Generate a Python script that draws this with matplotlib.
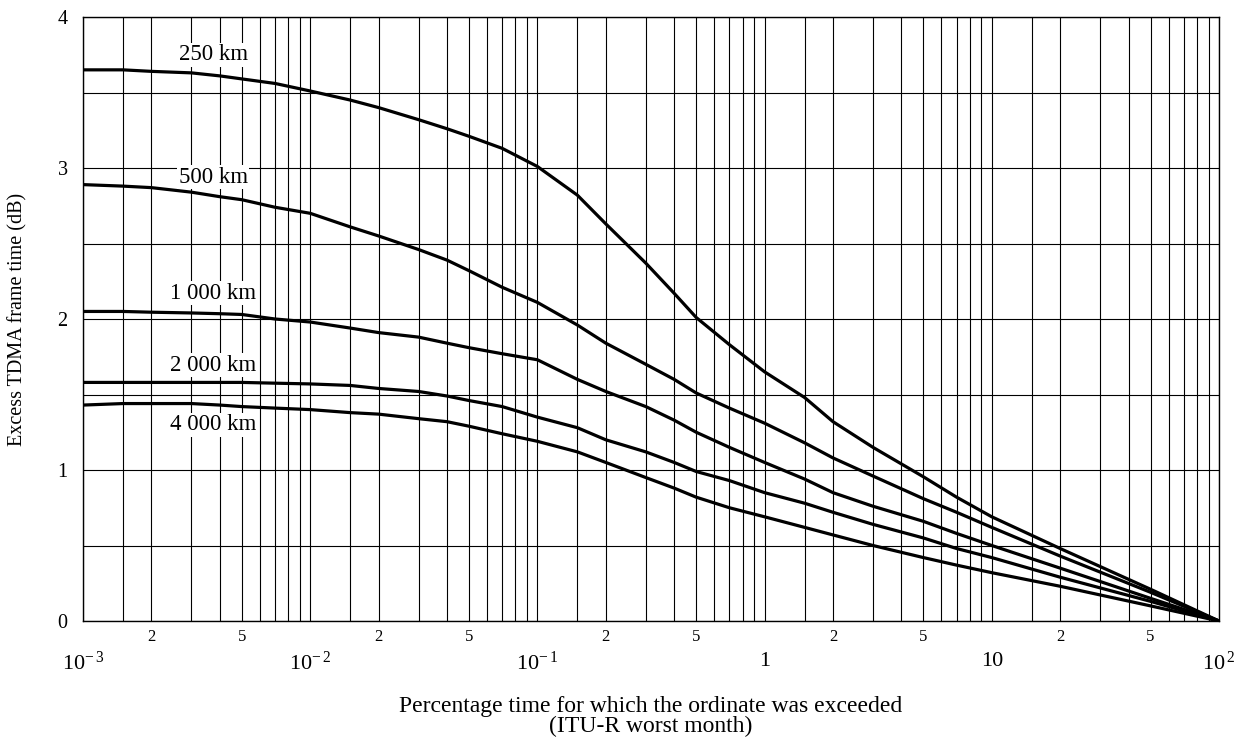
import numpy as np
import matplotlib
matplotlib.use("Agg")
import matplotlib.pyplot as plt

plt.rcParams['font.family'] = ['Liberation Serif', 'DejaVu Serif']
plt.rcParams['mathtext.fontset'] = 'custom'
plt.rcParams['mathtext.rm'] = 'Liberation Serif'

# percentage time (ITU-R worst month)
pct = [0.001, 0.0015, 0.002, 0.003, 0.004, 0.005, 0.007, 0.01, 0.015, 0.02,
       0.03, 0.04, 0.05, 0.07, 0.1, 0.15, 0.2, 0.3, 0.4, 0.5, 0.7, 1, 1.5, 2,
       3, 5, 7, 10, 20, 50, 100]

# excess TDMA frame time (dB) per distance
km_250 = [3.65, 3.65, 3.64, 3.63, 3.61, 3.59, 3.56, 3.51, 3.45, 3.40,
          3.32, 3.26, 3.21, 3.13, 3.01, 2.82, 2.63, 2.37, 2.17, 2.01, 1.83, 1.65, 1.48, 1.32,
          1.15, 0.955, 0.82, 0.69, 0.48, 0.21, 0.0]
km_500 = [2.89, 2.88, 2.87, 2.84, 2.81, 2.79, 2.74, 2.70, 2.61, 2.55,
          2.46, 2.39, 2.32, 2.21, 2.11, 1.96, 1.84, 1.70, 1.60, 1.51, 1.41, 1.31, 1.18, 1.08,
          0.96, 0.81, 0.72, 0.62, 0.43, 0.19, 0.0]
km_1000 = [2.05, 2.05, 2.045, 2.04, 2.035, 2.03, 2.00, 1.98, 1.94, 1.91,
           1.88, 1.84, 1.81, 1.77, 1.73, 1.60, 1.52, 1.42, 1.33, 1.25, 1.15, 1.05, 0.94, 0.85,
           0.76, 0.66, 0.58, 0.50, 0.35, 0.15, 0.0]
km_2000 = [1.58, 1.58, 1.58, 1.58, 1.58, 1.58, 1.575, 1.57, 1.56, 1.54,
           1.52, 1.49, 1.46, 1.42, 1.35, 1.28, 1.20, 1.12, 1.05, 0.99, 0.93, 0.85, 0.78, 0.72,
           0.64, 0.55, 0.48, 0.42, 0.29, 0.13, 0.0]
km_4000 = [1.43, 1.44, 1.44, 1.44, 1.43, 1.42, 1.41, 1.40, 1.38, 1.37,
           1.34, 1.32, 1.29, 1.24, 1.19, 1.12, 1.05, 0.95, 0.88, 0.82, 0.75, 0.69, 0.62, 0.57,
           0.50, 0.42, 0.37, 0.32, 0.23, 0.10, 0.0]

curves = [km_250, km_500, km_1000, km_2000, km_4000]
names = ['250 km', '500 km', '1 000 km', '2 000 km', '4 000 km']
label_y = [3.75, 2.94, 2.17, 1.695, 1.30]

major_x = [1e-3, 1e-2, 1e-1, 1, 10, 100]
major_lbl = [r'$\mathregular{10^{-\,3}}$', r'$\mathregular{10^{-\,2}}$',
             r'$\mathregular{10^{-\,1}}$', '1', '10', r'$\mathregular{10^{\,2}}$']
mantissa = [1.5, 2, 3, 4, 5, 6, 7, 8, 9]
minor_named = {2: '2', 5: '5'}

fig = plt.figure(figsize=(12.45, 7.42), dpi=100)
ax = fig.add_axes([83/1245, 1-621/742, (1219-83)/1245, (621-17)/742])

for y in curves:
    ax.plot(pct, y, color='black', lw=2.3, solid_capstyle='round',
            solid_joinstyle='round', zorder=3)

for name, ly in zip(names, label_y):
    ax.text(3.75e-3, ly, name, ha='center', va='center', fontsize=16.5, zorder=4,
            bbox=dict(facecolor='white', edgecolor='none', pad=1.0))

ax.set_xscale('log')
ax.set_xlim(1e-3, 1e2)
ax.set_ylim(0, 4)

minor_x = []
minor_lbl = []
for d in major_x[:-1]:
    for m in mantissa:
        minor_x.append(d * m)
        minor_lbl.append(minor_named.get(m, ''))
ax.set_xticks(major_x)
ax.set_xticklabels(major_lbl, fontsize=16)
ax.set_xticks(minor_x, minor=True)
ax.set_xticklabels(minor_lbl, minor=True, fontsize=12)
ax.set_yticks([0, 1, 2, 3, 4])
ax.set_yticklabels(['0', '1', '2', '3', '4'], fontsize=14.5)
ax.set_yticks([0.5, 1.5, 2.5, 3.5], minor=True)

ax.tick_params(axis='x', which='major', length=0, pad=22)
ax.tick_params(axis='x', which='minor', length=0, pad=6)
ax.tick_params(axis='y', which='both', length=0, pad=11)

ax.grid(which='both', color='black', lw=0.8)
ax.set_axisbelow(True)
for s in ax.spines.values():
    s.set_linewidth(1.0)

fig.text(651/1245, 1-712/742, 'Percentage time for which the ordinate was exceeded',
         ha='center', va='baseline', fontsize=17)
fig.text(651/1245, 1-732/742, '(ITU-R worst month)',
         ha='center', va='baseline', fontsize=17)
fig.text(18/1245, 1-319/742, 'Excess TDMA frame time (dB)', rotation=90,
         ha='center', va='center', fontsize=14.5)

fig.savefig('out.png', dpi=100)
